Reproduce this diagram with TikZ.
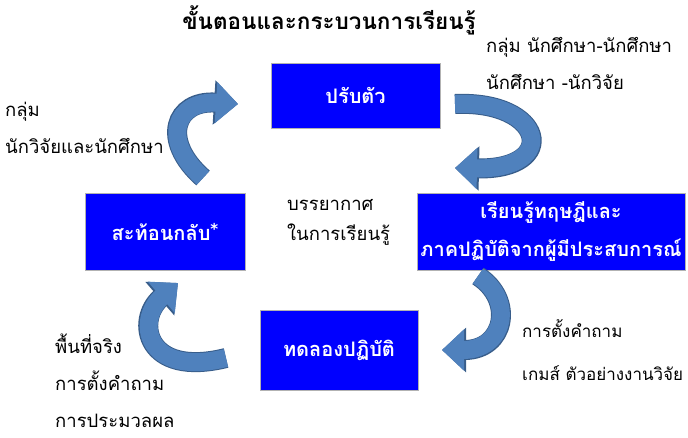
\documentclass[tikz,border=0pt]{standalone}
\usepackage{fontspec}
\setmainfont[Script=Thai]{Loma}
\newfontfamily\symfont{DejaVu Sans}
\usetikzlibrary{arrows.meta}
\definecolor{boxblue}{RGB}{0,0,255}
\definecolor{flowblue}{RGB}{79,129,189}
\definecolor{flowedge}{RGB}{56,93,138}
\begin{document}
\begin{tikzpicture}[x=1pt, y=-1pt,
  box/.style={thick, shape=rectangle, draw=gray!60, fill=boxblue, text=white, font=\fontsize{20}{38}\selectfont\bfseries, align=center, inner sep=0pt},
  note/.style={inner sep=0pt, align=left, font=\fontsize{18.5}{37}\selectfont},
  flowrim/.style={line width=20pt, draw=flowedge, -{Triangle[width=43pt, length=24pt]}},
  flow/.style={line width=18pt, draw=flowblue, -{Triangle[width=40pt, length=22pt]}}]
\useasboundingbox (0,0) rectangle (688,437);
% title
\node[font=\fontsize{22.5}{26}\selectfont\bfseries] (title) at (329,20) {ขั้นตอนและกระบวนการเรียนรู้};
% steps
\node[box, minimum width=169pt, minimum height=65pt] (adjust) at (355.5,95.5) {ปรับตัว};
\node[box, minimum width=268pt, minimum height=77pt] (theory) at (551,231.5) {เรียนรู้ทฤษฎีและ\\ภาคปฏิบัติจากผู้มีประสบการณ์};
\node[box, minimum width=158pt, minimum height=80pt] (trial) at (339,350) {ทดลองปฏิบัติ};
\node[box, minimum width=160pt, minimum height=77pt] (reflect) at (165,231.5) {สะท้อนกลับ\raisebox{6pt}{\symfont\fontsize{15}{15}\selectfont *}};
\node[note, anchor=north west] (climate) at (287,199) {บรรยากาศ\\[-7pt]ในการเรียนรู้};
% groups
\node[note, anchor=north west] (grpA) at (486,37) {กลุ่ม นักศึกษา-นักศึกษา\\นักศึกษา -นักวิจัย};
\node[note, anchor=north west] (grpB) at (5,102) {กลุ่ม\\นักวิจัยและนักศึกษา};
\node[note, anchor=north west] (field) at (55,334) {พื้นที่จริง\\การตั้งคำถาม\\การประมวลผล};
\node[note, anchor=north west, font=\fontsize{17}{37}\selectfont] (game) at (522,319) {การตั้งคำถาม\\[6pt]เกมส์ ตัวอย่างงานวิจัย};
% curved arrows
\coordinate (c1) at (203,178);
\coordinate (c2) at (238,104);
\coordinate (c3) at (455,104);
\coordinate (c4) at (455,168);
\coordinate (c5) at (478,276);
\coordinate (c6) at (442,350);
\coordinate (c7) at (226,358);
\coordinate (c8) at (178,283);
\foreach \a/\b/\p/\q in {c1/c2/{(160,140)}/{(175,100)}, c3/c4/{(545,100)}/{(560,170)},
                        c5/c6/{(515,300)}/{(505,350)}, c7/c8/{(145,378)}/{(135,320)}} {
  \draw[flowrim] (\a) .. controls \p and \q .. (\b);
  \draw[flow] (\a) .. controls \p and \q .. (\b);
}
\end{tikzpicture}
\end{document}
